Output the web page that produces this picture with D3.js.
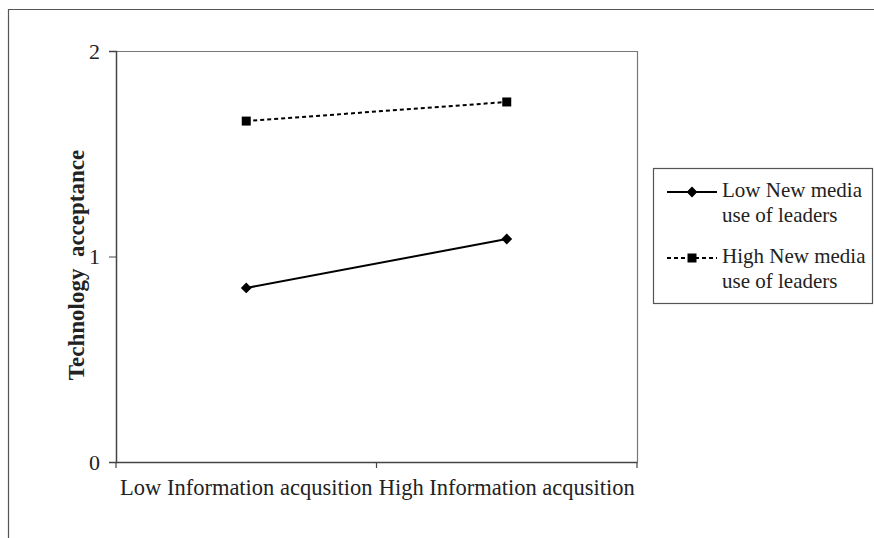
<!DOCTYPE html>
<html><head><meta charset="utf-8">
<script src="https://cdn.jsdelivr.net/npm/d3@7"></script>
<style>body{margin:0;background:#fff}svg{display:block}text{font-family:"Liberation Serif","Times New Roman",serif !important;fill:#222}</style>
</head><body><svg id="c" width="874" height="538"></svg>
<script>
const categories = ["Low Information acqusition", "High Information acqusition"];
const lowMedia = [0.847, 1.085];
const highMedia = [1.659, 1.752];
const seriesNames = ["Low New media use of leaders", "High New media use of leaders"];
const yTicks = [0, 1, 2];

const svg = d3.select("#c");
// outer frame
svg.append("path").attr("d","M8.5,538 V9.5 H874").attr("fill","none").attr("stroke","#555").attr("stroke-width",1.2);

const L=116, R=637, T=51, B=462;
const x = d3.scaleBand().domain(categories).range([L,R]);
const y = d3.scaleLinear().domain([0,2]).range([B,T]);

// plot box top and right
svg.append("path").attr("d",`M${L},${T+0.5} H${R+0.5} V${B}`).attr("fill","none").attr("stroke","#777").attr("stroke-width",1.2);

// y axis
const ya = svg.append("g").attr("transform",`translate(${L},0)`)
  .call(d3.axisLeft(y).tickValues(yTicks).tickFormat(d3.format("d")).tickSize(7).tickPadding(9));
ya.select(".domain").attr("stroke","#444").attr("stroke-width",1.5);
ya.selectAll(".tick line").attr("stroke","#444");
ya.selectAll("text").attr("font-size",22).attr("fill","#222");

// x axis
const xa = svg.append("g").attr("transform",`translate(0,${B})`)
  .call(d3.axisBottom(x).tickSize(0).tickPadding(17));
xa.select(".domain").attr("stroke","#444").attr("stroke-width",1.5);
xa.selectAll("text").attr("font-size",22.5).attr("fill","#222");
// boundary ticks
const bounds = [L, L+x.step(), R];
svg.append("g").selectAll("line").data(bounds).join("line")
  .attr("x1",d=>d).attr("x2",d=>d).attr("y1",B).attr("y2",B+6).attr("stroke","#444").attr("stroke-width",1.2);

// y title
svg.append("text").attr("transform",`translate(84,265) rotate(-90)`).attr("text-anchor","middle")
  .attr("font-size",23).attr("font-weight","bold").attr("fill","#111").style("white-space","pre").text("Technology  acceptance");

const line = d3.line().x((d,i)=>x(categories[i])+x.bandwidth()/2).y(d=>y(d));
svg.append("path").datum(lowMedia).attr("d",line).attr("fill","none").attr("stroke","#000").attr("stroke-width",2);
svg.append("path").datum(highMedia).attr("d",line).attr("fill","none").attr("stroke","#000").attr("stroke-width",2).attr("stroke-dasharray","4,3");

const diamond = d3.symbol().type(d3.symbolDiamond2).size(75);
const square = d3.symbol().type(d3.symbolSquare).size(81);
svg.append("g").selectAll("path").data(lowMedia).join("path")
  .attr("transform",(d,i)=>`translate(${x(categories[i])+x.bandwidth()/2},${y(d)})`).attr("d",diamond).attr("fill","#000");
svg.append("g").selectAll("path").data(highMedia).join("path")
  .attr("transform",(d,i)=>`translate(${x(categories[i])+x.bandwidth()/2},${y(d)})`).attr("d",square).attr("fill","#000");

// legend
const lg = svg.append("g");
lg.append("rect").attr("x",653.5).attr("y",168.5).attr("width",219).attr("height",135).attr("fill","#fff").attr("stroke","#555").attr("stroke-width",1.2);
const leg = [{name:seriesNames[0],dash:null,sym:diamond,y:192},{name:seriesNames[1],dash:"4,3",sym:square,y:258}];
leg.forEach(d=>{
  lg.append("line").attr("x1",667).attr("x2",717).attr("y1",d.y).attr("y2",d.y).attr("stroke","#000").attr("stroke-width",2).attr("stroke-dasharray",d.dash);
  lg.append("path").attr("transform",`translate(692,${d.y})`).attr("d",d.sym).attr("fill","#000");
  const words = d.name.split(" ");
  const t = lg.append("text").attr("x",722).attr("y",d.y+5).attr("font-size",21);
  t.append("tspan").attr("x",722).text(words.slice(0,3).join(" "));
  t.append("tspan").attr("x",722).attr("dy",25).text(words.slice(3).join(" "));
});
</script></body></html>
